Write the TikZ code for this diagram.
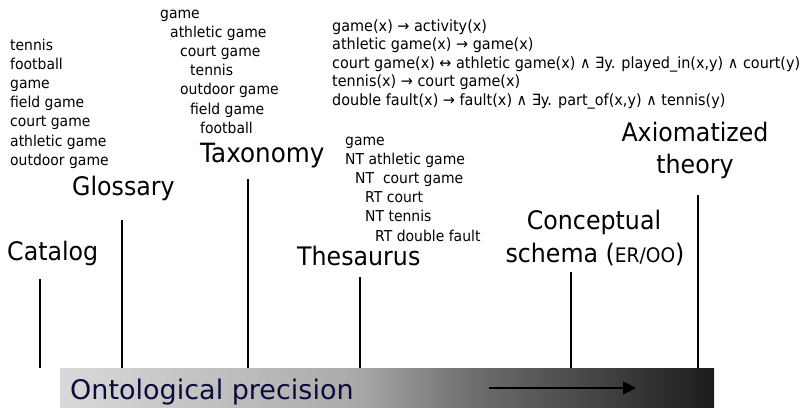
\documentclass[tikz,border=0pt]{standalone}
\usepackage{fontspec}
\setmainfont{DejaVu Sans}[FakeStretch=0.93]
\newfontfamily\ontofont{DejaVu Sans}[FakeStretch=1.0]
\usetikzlibrary{arrows.meta}
\definecolor{navy}{RGB}{12,12,60}
\definecolor{gA}{RGB}{217,217,217}
\definecolor{gB}{RGB}{170,170,170}
\definecolor{gC}{RGB}{110,110,110}
\definecolor{gD}{RGB}{28,28,28}
\pgfdeclarehorizontalshading{precision}{100bp}{color(0bp)=(gA); color(25bp)=(gA); color(47.5bp)=(gB); color(56.5bp)=(gC); color(75bp)=(gD); color(100bp)=(gD)}
\begin{document}
\begin{tikzpicture}[x=1pt,y=-1pt,
  small/.style={anchor=base west, inner sep=0pt, font=\fontsize{15}{18}\selectfont},
  axiomtext/.style={anchor=base west, inner sep=0pt, font=\fontsize{15.5}{18}\selectfont},
  big/.style={anchor=base west, inner sep=0pt, font=\fontsize{25.5}{30}\selectfont},
  bigc/.style={big, anchor=base},
  stem/.style={line width=1.8pt, black},
]
\useasboundingbox (0,0) rectangle (803,407);

% gradient bar
\node[name=bar, anchor=north west, inner sep=0pt, minimum width=654pt, minimum height=39pt, shading=precision] at (60,368) {};
\node[anchor=base west, inner sep=0pt, text=navy, font=\ontofont\fontsize{27}{30}\selectfont] (onto) at (70,399) {Ontological precision};
\coordinate (arrS) at (489,388);
\coordinate (arrE) at (636,388);
\draw[line width=2.2pt, -{Triangle[length=13pt,width=13pt]}] (arrS) -- (arrE);

% Catalog
\node[big] (catalog) at (7,260) {Catalog};
\coordinate (catTop) at (40,279);
\draw[stem] (catTop) -- (catTop |- bar.north);

% Glossary
\node[small] (g1) at (10,50) {tennis};
\node[small] (g2) at (10,69.2) {football};
\node[small] (g3) at (10,88.4) {game};
\node[small] (g4) at (10,107.6) {field game};
\node[small] (g5) at (10,126.8) {court game};
\node[small] (g6) at (10,146) {athletic game};
\node[small] (g7) at (10,165.2) {outdoor game};
\node[big] (glossary) at (72,195) {Glossary};
\coordinate (gloTop) at (122,220);
\draw[stem] (gloTop) -- (gloTop |- bar.north);

% Taxonomy
\node[small] (t1) at (160,18.5) {game};
\node[small] (t2) at (170,37.6) {athletic game};
\node[small] (t3) at (180,56.7) {court game};
\node[small] (t4) at (190,75.8) {tennis};
\node[small] (t5) at (180,94.9) {outdoor game};
\node[small] (t6) at (190,114) {field game};
\node[small] (t7) at (200,133.1) {football};
\node[big, font=\fontsize{26.5}{30}\selectfont] (taxonomy) at (200,162) {Taxonomy};
\coordinate (taxTop) at (248,179);
\draw[stem] (taxTop) -- (taxTop |- bar.north);

% Thesaurus
\node[small] (s1) at (345,145) {game};
\node[small] (s2) at (345,164.2) {NT athletic game};
\node[small] (s3) at (355,183.4) {NT~ court game};
\node[small] (s4) at (365,202.6) {RT court};
\node[small] (s5) at (365,221.8) {NT tennis};
\node[small] (s6) at (375,241) {RT double fault};
\node[big] (thesaurus) at (297,265) {Thesaurus};
\coordinate (thsTop) at (360,277);
\draw[stem] (thsTop) -- (thsTop |- bar.north);

% Conceptual schema
\node[bigc] (concept1) at (594,229) {Conceptual};
\node[bigc] (concept2) at (595,262) {schema ({\fontsize{20}{24}\selectfont ER/OO})};
\coordinate (conTop) at (571,272);
\draw[stem] (conTop) -- (conTop |- bar.north);

% Axiomatized theory
\node[axiomtext] (a1) at (332,31) {game(x) → activity(x)};
\node[axiomtext] (a2) at (332,49.6) {athletic game(x) → game(x)};
\node[axiomtext] (a3) at (332,68.2) {court game(x) ↔ athletic game(x) ∧ ∃y. played\_in(x,y) ∧ court(y)};
\node[axiomtext] (a4) at (332,86.8) {tennis(x) → court game(x)};
\node[axiomtext] (a5) at (332,105.4) {double fault(x) → fault(x) ∧ ∃y. part\_of(x,y) ∧ tennis(y)};
\node[bigc] (axiom1) at (695,141) {Axiomatized};
\node[bigc] (axiom2) at (695,173) {theory};
\coordinate (axTop) at (698,195);
\draw[stem] (axTop) -- (axTop |- bar.north);
\end{tikzpicture}
\end{document}
